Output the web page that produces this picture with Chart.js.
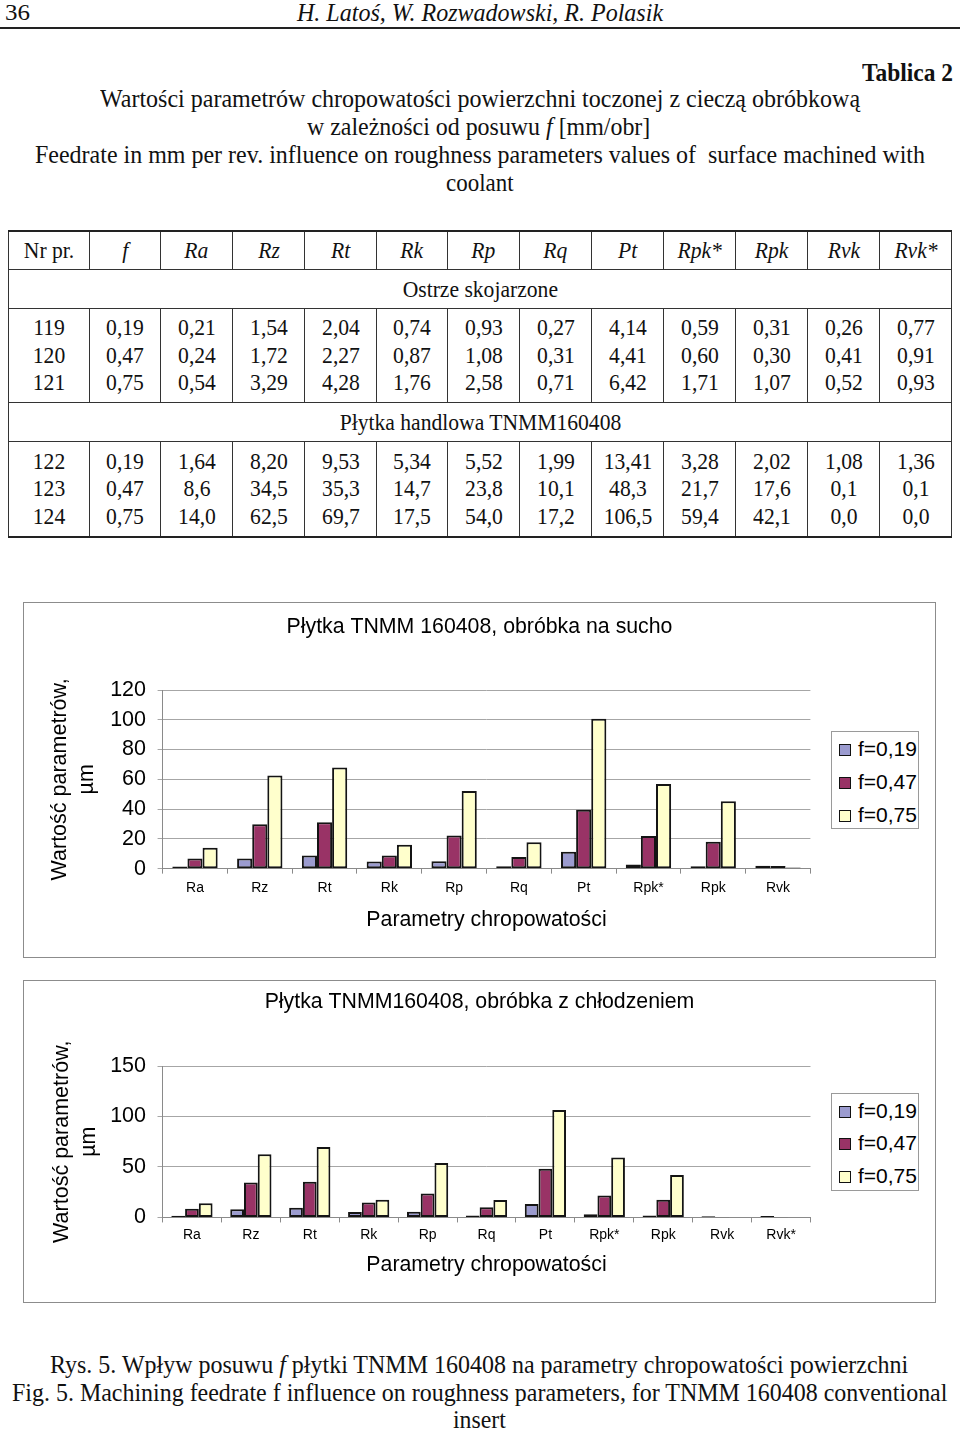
<!DOCTYPE html>
<html><head><meta charset="utf-8">
<script src="https://cdn.jsdelivr.net/npm/chart.js@4.4.0/dist/chart.umd.min.js"></script>
<style>
html,body{margin:0;padding:0}
body{width:960px;height:1430px;position:relative;background:#fff;font-family:"Liberation Serif","Times New Roman",serif;color:#111;overflow:hidden}
.ln{position:absolute;white-space:nowrap;line-height:1;transform-origin:left center}
.rule{position:absolute;left:0;width:960px;top:27px;height:2px;background:#222}
table.tb{position:absolute;left:8px;top:230px;border-collapse:collapse;font-size:24px;table-layout:fixed}
table.tb td{border:1px solid #333;text-align:center;vertical-align:middle;padding:0}
table.tb td span{display:inline-block;transform:scaleX(0.9);white-space:nowrap}
table.tb tr.hd td{height:37px;font-style:italic}
table.tb tr.sec td{height:38px}
table.tb tr.d1 td{height:93px;line-height:27.5px}
table.tb tr.d2 td{height:94px;line-height:27.5px}
.box{position:absolute;border:1px solid #8c8c8c;background:#fff}
canvas{position:absolute}
.legend{position:absolute;border:1px solid #9a9a9a;background:#fff;font-family:"Liberation Sans",Arial,sans-serif;font-size:21px;color:#000}
.legend div{position:absolute;left:7px;height:21px;line-height:21px;white-space:nowrap}
.legend i{display:inline-block;width:10px;height:10px;border:1.5px solid #111;margin-right:7px;vertical-align:0px}
</style></head><body>

<div class="ln" data-x1="5" data-x2="30" data-y="12" style="font-size:23px">36</div>
<div class="ln" data-x1="297" data-x2="663" data-y="12" style="font-size:25px;font-style:italic">H. Latoś, W. Rozwadowski, R. Polasik</div>
<div class="rule"></div>

<div class="ln" data-x1="862" data-x2="953" data-y="72" style="font-size:25px;font-weight:bold">Tablica 2</div>
<div class="ln" data-x1="100" data-x2="860" data-y="99" style="font-size:26px">Wartości parametrów chropowatości powierzchni toczonej z cieczą obróbkową</div>
<div class="ln" data-x1="307" data-x2="650" data-y="127" style="font-size:26px">w zależności od posuwu <i>f</i> [mm/obr]</div>
<div class="ln" data-x1="35" data-x2="925" data-y="155" style="font-size:26px">Feedrate in mm per rev. influence on roughness parameters values of&nbsp; surface machined with</div>
<div class="ln" data-x1="446" data-x2="514" data-y="183" style="font-size:26px">coolant</div>

<table class="tb" id="tb"></table>

<div class="box" style="left:23px;top:602px;width:911px;height:354px"></div>
<canvas id="c1" width="911" height="354" style="left:24px;top:603px"></canvas>
<div class="legend" id="lg1" style="left:831px;top:731px;width:86px;height:96px"></div>

<div class="box" style="left:23px;top:980px;width:911px;height:321px"></div>
<canvas id="c2" width="911" height="321" style="left:24px;top:981px"></canvas>
<div class="legend" id="lg2" style="left:831px;top:1093px;width:86px;height:96px"></div>

<div class="ln" data-x1="50" data-x2="908" data-y="1365" style="font-size:26px">Rys. 5. Wpływ posuwu <i>f</i> płytki TNMM 160408 na parametry chropowatości powierzchni</div>
<div class="ln" data-x1="12" data-x2="947" data-y="1393" style="font-size:26px">Fig. 5. Machining feedrate f influence on roughness parameters, for TNMM 160408 conventional</div>
<div class="ln" data-x1="453" data-x2="506" data-y="1420" style="font-size:26px">insert</div>

<script>
// ---------- table data ----------
const tableHeader = ['Nr pr.','f','Ra','Rz','Rt','Rk','Rp','Rq','Pt','Rpk*','Rpk','Rvk','Rvk*'];
const section1Title = 'Ostrze skojarzone';
const section1Rows = [
  ['119','0,19','0,21','1,54','2,04','0,74','0,93','0,27','4,14','0,59','0,31','0,26','0,77'],
  ['120','0,47','0,24','1,72','2,27','0,87','1,08','0,31','4,41','0,60','0,30','0,41','0,91'],
  ['121','0,75','0,54','3,29','4,28','1,76','2,58','0,71','6,42','1,71','1,07','0,52','0,93']
];
const section2Title = 'Płytka handlowa TNMM160408';
const section2Rows = [
  ['122','0,19','1,64','8,20','9,53','5,34','5,52','1,99','13,41','3,28','2,02','1,08','1,36'],
  ['123','0,47','8,6','34,5','35,3','14,7','23,8','10,1','48,3','21,7','17,6','0,1','0,1'],
  ['124','0,75','14,0','62,5','69,7','17,5','54,0','17,2','106,5','59,4','42,1','0,0','0,0']
];

// ---------- chart data ----------
const seriesLabels = ['f=0,19','f=0,47','f=0,75'];
const seriesColors = ['#9b9bcf','#993366','#ffffcc'];

const dryTitle = 'Płytka TNMM 160408, obróbka na sucho';
const dryCategories = ['Ra','Rz','Rt','Rk','Rp','Rq','Pt','Rpk*','Rpk','Rvk'];
const dryF019 = [1.5, 6.8, 8.8, 4.8, 5.0, 1.6, 11.3, 2.7, 1.6, 1.9];
const dryF047 = [6.8, 29.9, 31.2, 8.8, 22.2, 7.9, 39.6, 22.0, 18.1, 1.8];
const dryF075 = [14.0, 62.5, 67.9, 16.1, 52.1, 17.7, 100.7, 56.8, 45.3, 0.8];
const dryTicks = [0, 20, 40, 60, 80, 100, 120];

const coolTitle = 'Płytka TNMM160408, obróbka z chłodzeniem';
const coolCategories = ['Ra','Rz','Rt','Rk','Rp','Rq','Pt','Rpk*','Rpk','Rvk','Rvk*'];
const coolF019 = [1.64, 8.20, 9.53, 5.34, 5.52, 1.99, 13.41, 3.28, 2.02, 1.08, 1.36];
const coolF047 = [8.6, 34.5, 35.3, 14.7, 23.8, 10.1, 48.3, 21.7, 17.6, 0.1, 0.1];
const coolF075 = [14.0, 62.5, 69.7, 17.5, 54.0, 17.2, 106.5, 59.4, 42.1, 0.0, 0.0];
const coolTicks = [0, 50, 100, 150];

const xAxisTitle = 'Parametry chropowatości';
const yAxisTitle = ['Wartość parametrów,', 'µm'];

// ---------- text fitting ----------
document.querySelectorAll('.ln').forEach(el => {
  const x1 = +el.dataset.x1, x2 = +el.dataset.x2, y = +el.dataset.y;
  el.style.left = x1 + 'px';
  const w = el.offsetWidth, h = el.offsetHeight;
  el.style.top = (y - h / 2) + 'px';
  el.style.transform = 'scaleX(' + ((x2 - x1) / w) + ')';
});

// ---------- table ----------
(function(){
  const tb = document.getElementById('tb');
  const widths = [81,71,72,72,72,71,72,72,72,72,72,72,72];
  const cg = document.createElement('colgroup');
  widths.forEach(w => { const c = document.createElement('col'); c.style.width = w + 'px'; cg.appendChild(c); });
  tb.appendChild(cg);
  const hr = document.createElement('tr'); hr.className = 'hd';
  tableHeader.forEach((t,i) => { const td = document.createElement('td'); td.innerHTML = '<span>' + t + '</span>'; if (i === 0) td.style.fontStyle = 'normal'; hr.appendChild(td); });
  tb.appendChild(hr);
  function section(title, rows, cls){
    const sr = document.createElement('tr'); sr.className = 'sec';
    const td = document.createElement('td'); td.colSpan = 13; td.innerHTML = '<span>' + title + '</span>'; sr.appendChild(td); tb.appendChild(sr);
    const dr = document.createElement('tr'); dr.className = cls;
    for (let c = 0; c < 13; c++) {
      const d = document.createElement('td');
      d.innerHTML = '<span>' + rows.map(r => r[c]).join('<br>') + '</span>';
      dr.appendChild(d);
    }
    tb.appendChild(dr);
  }
  section(section1Title, section1Rows, 'd1');
  section(section2Title, section2Rows, 'd2');
  tb.style.borderTop = '2px solid #222';
  tb.style.borderBottom = '2px solid #222';
})();

// ---------- charts ----------
Chart.defaults.font.family = '"Liberation Sans", Arial, sans-serif';
Chart.defaults.color = '#000';

// chart title centred on the whole chart box (Excel style)
const boxTitle = {
  id: 'boxTitle',
  afterDraw(chart, args, opts) {
    const ctx = chart.ctx;
    ctx.save();
    ctx.font = opts.size + 'px "Liberation Sans", Arial, sans-serif';
    ctx.fillStyle = '#000';
    ctx.textAlign = 'center';
    ctx.textBaseline = 'middle';
    ctx.fillText(opts.text, chart.width / 2, opts.y);
    ctx.restore();
  }
};

function makeChart(id, cats, series, title, ticks, g) {
  const yMax = ticks[ticks.length - 1];
  const step = ticks[1] - ticks[0];
  return new Chart(document.getElementById(id), {
    type: 'bar',
    data: {
      labels: cats,
      datasets: series.map((d, i) => ({
        label: seriesLabels[i], data: d,
        backgroundColor: seriesColors[i], borderColor: '#141414',
        borderWidth: 2, borderSkipped: false,
        categoryPercentage: 0.7, barPercentage: 1
      }))
    },
    plugins: [boxTitle],
    options: {
      responsive: false, animation: false, devicePixelRatio: 1,
      layout: { padding: { left: g.padLeft, right: g.padRight, top: g.padTop, bottom: g.padBottom } },
      plugins: {
        legend: { display: false }, tooltip: { enabled: false },
        boxTitle: { text: title, y: g.titleY, size: 21.3 }
      },
      scales: {
        x: {
          grid: { offset: true, drawOnChartArea: false, tickLength: 5, color: '#8a8a8a' },
          border: { color: '#8a8a8a' },
          ticks: { color: '#000', font: { size: 14 }, padding: g.xTickPad, maxRotation: 0, autoSkip: false },
          title: { display: true, text: xAxisTitle, color: '#000',
            font: { size: 21.3, lineHeight: 1.2 }, padding: { top: g.xTitlePad, bottom: 0 } }
        },
        y: {
          min: 0, max: yMax,
          afterBuildTicks: s => { s.ticks = ticks.map(v => ({ value: v })); },
          ticks: { stepSize: step, color: '#000', font: { size: 21.5 }, padding: g.yTickPad },
          grid: { color: '#a6a6a6', tickLength: 5 },
          border: { color: '#8a8a8a' },
          title: { display: true, text: yAxisTitle, color: '#000',
            font: { size: 21.5, lineHeight: 1.26 }, padding: { top: 12.5, bottom: 0 } },
          afterFit: s => { s.width = g.yWidth; }
        }
      }
    }
  });
}

function makeLegend(id, tops) {
  const lg = document.getElementById(id);
  seriesLabels.forEach((l, i) => {
    const d = document.createElement('div');
    d.style.top = tops[i] + 'px';
    d.innerHTML = '<i style="background:' + seriesColors[i] + '"></i>' + l;
    lg.appendChild(d);
  });
}

makeChart('c1', dryCategories, [dryF019, dryF047, dryF075], dryTitle, dryTicks,
  { padLeft: 10, yWidth: 128.6, padRight: 124.6, padTop: 87, padBottom: 24, titleY: 24, xTickPad: 6.5, xTitlePad: 4, yTickPad: 11.6 });
makeLegend('lg1', [6, 39, 72]);

makeChart('c2', coolCategories, [coolF019, coolF047, coolF075], coolTitle, coolTicks,
  { padLeft: 12, yWidth: 126.5, padRight: 124.5, padTop: 85, padBottom: 23.8, titleY: 21, xTickPad: 4.6, xTitlePad: 4.2, yTickPad: 11.5 });
makeLegend('lg2', [6, 38, 71]);
</script>
</body></html>
